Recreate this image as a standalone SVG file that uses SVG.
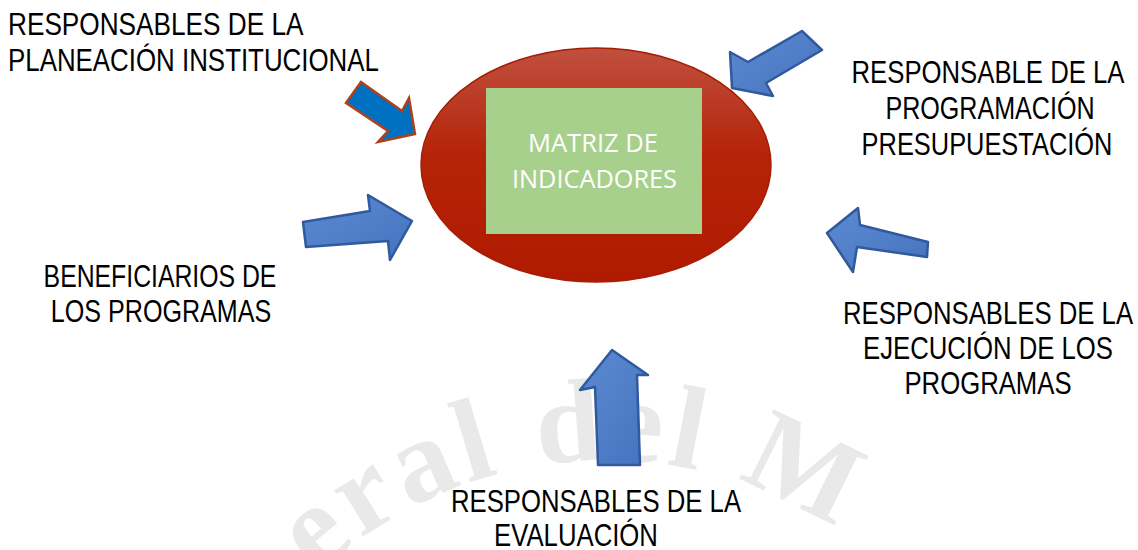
<svg xmlns="http://www.w3.org/2000/svg" width="1138" height="550" viewBox="0 0 1138 550">
<style>
.lbl{font-family:"Liberation Sans",Arial,sans-serif;font-size:31px;fill:#000;text-anchor:middle}
.lft{text-anchor:start}
.ctr{font-family:"Open Sans","Noto Sans",sans-serif;font-size:25px;fill:#fff}
.barrow{fill:url(#blueGrad);stroke:#30599e;stroke-width:2.5;stroke-linejoin:round}
.wm{font-family:"Liberation Serif","Times New Roman",serif;font-weight:bold;font-size:118px;fill:#e9e9e9;letter-spacing:5px}
</style>
<defs>
<linearGradient id="redGrad" x1="0" y1="0" x2="0" y2="1">
<stop offset="0" stop-color="#c0503f"/>
<stop offset="0.45" stop-color="#b52408"/>
<stop offset="1" stop-color="#b01a00"/>
</linearGradient>
<linearGradient id="blueGrad" x1="0" y1="0" x2="1" y2="1">
<stop offset="0" stop-color="#5b8bd2"/>
<stop offset="1" stop-color="#4672bd"/>
</linearGradient>
<path id="wmArc" d="M 189,876 A 416 416 0 0 1 1021,876"/>
</defs>
<rect width="1138" height="550" fill="#fff"/>
<g id="watermark">
<text class="wm"><textPath href="#wmArc" startOffset="335">eral del M</textPath></text>
</g>
<g id="center">
<ellipse cx="596" cy="165" rx="175" ry="117" fill="url(#redGrad)" stroke="#a51e04" stroke-width="1.5"/>
<rect x="486" y="88" width="216" height="146" fill="#a8d08d"/>
<text class="ctr" x="528" y="152" textLength="130" lengthAdjust="spacingAndGlyphs">MATRIZ DE</text>
<text class="ctr" x="512" y="188" textLength="165" lengthAdjust="spacingAndGlyphs">INDICADORES</text>
</g>
<g id="connectors">
<polygon points="361,82 402,111 409,98 415,134 378,142 388,131 346,103" fill="#0070c0" stroke="#b0401a" stroke-width="2.5" stroke-linejoin="miter"/>
<polygon class="barrow" points="732,88 730,52 748,62 802,31 822,50 766,83 773,96"/>
<polygon class="barrow" points="303,222 370,211 368,195 412,221 390,260 388,241 306,247"/>
<polygon class="barrow" points="827,233 858,208 860,225 928,242 927,257 857,247 853,272"/>
<polygon class="barrow" points="612,350 648,375 637,375 640,465 598,465 595,387 580,390"/>
</g>
<g id="n-planeacion">
<text class="lbl lft" transform="translate(8,35) scale(0.845,1)">RESPONSABLES DE LA</text>
<text class="lbl lft" transform="translate(8,71) scale(0.835,1)">PLANEACIÓN INSTITUCIONAL</text>
</g>
<g id="n-programacion">
<text class="lbl" transform="translate(988,83) scale(0.83,1)">RESPONSABLE DE LA</text>
<text class="lbl" transform="translate(990,119) scale(0.81,1)">PROGRAMACIÓN</text>
<text class="lbl" transform="translate(987,155) scale(0.82,1)">PRESUPUESTACIÓN</text>
</g>
<g id="n-beneficiarios">
<text class="lbl" transform="translate(160,287) scale(0.8,1)">BENEFICIARIOS DE</text>
<text class="lbl" transform="translate(161,322) scale(0.81,1)">LOS PROGRAMAS</text>
</g>
<g id="n-ejecucion">
<text class="lbl" transform="translate(988,324) scale(0.83,1)">RESPONSABLES DE LA</text>
<text class="lbl" transform="translate(988,359) scale(0.83,1)">EJECUCIÓN DE LOS</text>
<text class="lbl" transform="translate(988,394) scale(0.83,1)">PROGRAMAS</text>
</g>
<g id="n-evaluacion">
<text class="lbl" transform="translate(596,512) scale(0.83,1)">RESPONSABLES DE LA</text>
<text class="lbl" transform="translate(576,546) scale(0.83,1)">EVALUACIÓN</text>
</g>
</svg>
